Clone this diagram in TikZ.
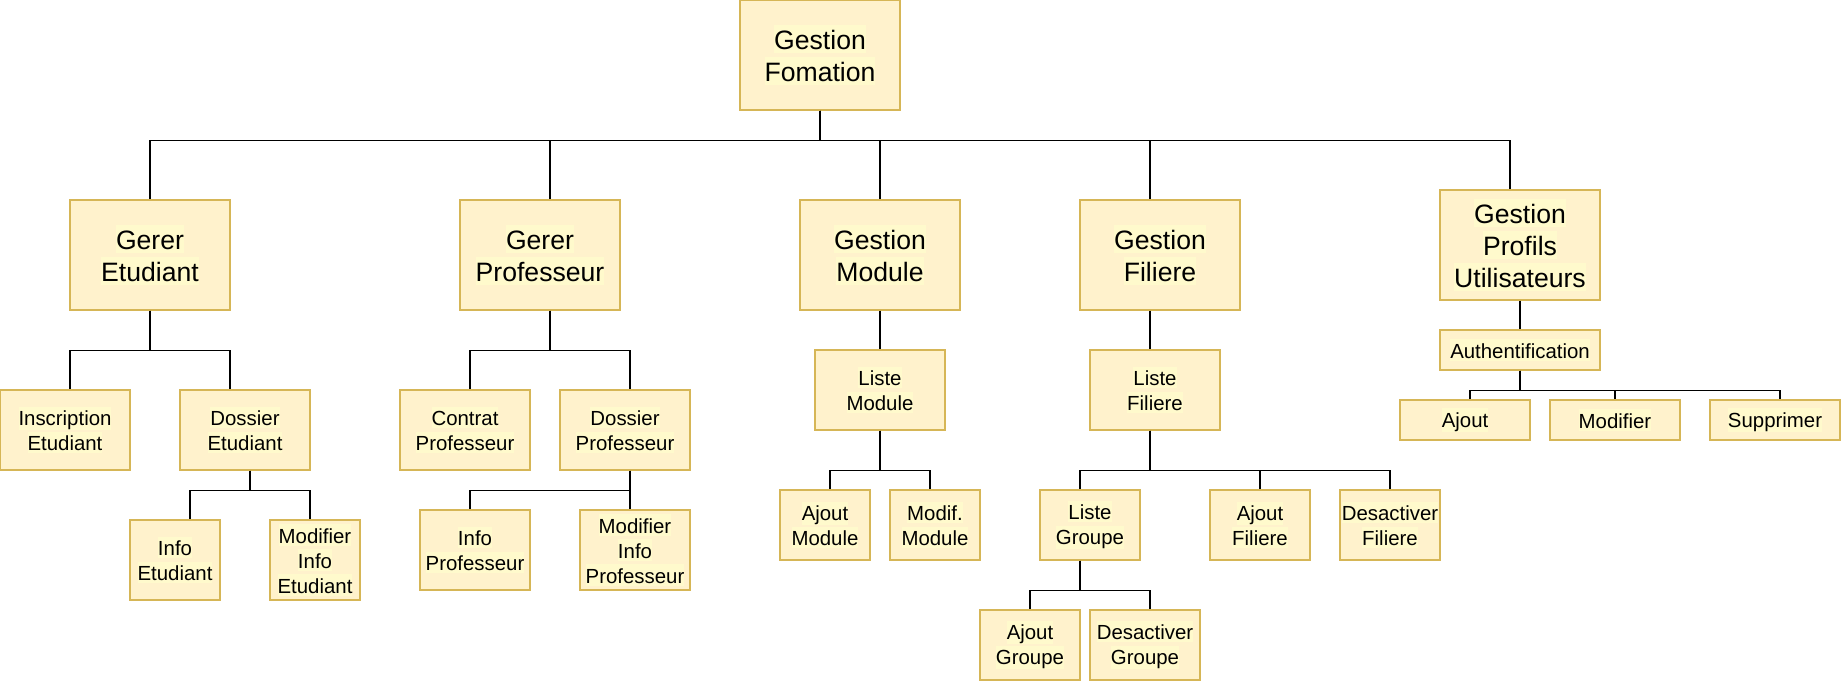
\documentclass[tikz,border=0pt]{standalone}
\usepackage{fontspec}
\setmainfont{Liberation Sans}
\definecolor{boxfill}{HTML}{FFF2CC}
\definecolor{boxline}{HTML}{D6B656}
\definecolor{labelbg}{HTML}{FFFACC}
\newcommand{\hl}[1]{{\fboxsep=0pt\colorbox{labelbg}{\rule[-0.12em]{0pt}{1.05em}#1}}}

\begin{document}
\begin{tikzpicture}[x=0.5pt, y=-0.5pt,
	box/.style={draw=boxline, fill=boxfill, line width=0.6pt, inner sep=0pt, align=center},
	big/.style={box, minimum width=80pt, minimum height=55pt, font=\fontsize{13.3}{16}\selectfont},
	small/.style={box, font=\fontsize{10.2}{12.5}\selectfont},
	sz/.style 2 args={minimum width=#1, minimum height=#2},
	link/.style={draw=black, line width=0.6pt}]
	\useasboundingbox (0,0) rectangle (1841,681);

	\node[big] (gf0)  at (820,55)   {\hl{Gestion}\\\hl{Fomation}};
	\node[big] (ge)   at (150,255)  {\hl{Gerer}\\\hl{Etudiant}};
	\node[big] (gp)   at (540,255)  {\hl{Gerer}\\\hl{Professeur}};
	\node[big] (gm)   at (880,255)  {\hl{Gestion}\\\hl{Module}};
	\node[big] (gf)   at (1160,255) {\hl{Gestion}\\\hl{Filiere}};
	\node[big] (gpu)  at (1520,245) {\hl{Gestion}\\\hl{Profils}\\\hl{Utilisateurs}};

	\node[small, sz={65pt}{40pt}]   (ie)   at (65,430)   {\hl{Inscription}\\\hl{Etudiant}};
	\node[small, sz={65pt}{40pt}]   (de)   at (245,430)  {\hl{Dossier}\\\hl{Etudiant}};
	\node[small, sz={45pt}{40pt}]   (inf)  at (175,560)  {\hl{Info}\\\hl{Etudiant}};
	\node[small, sz={45pt}{40pt}]   (mie)  at (315,560)  {\hl{Modifier}\\\hl{Info}\\\hl{Etudiant}};

	\node[small, sz={65pt}{40pt}]   (cp)   at (465,430)  {\hl{Contrat}\\\hl{Professeur}};
	\node[small, sz={65pt}{40pt}]   (dp)   at (625,430)  {\hl{Dossier}\\\hl{Professeur}};
	\node[small, sz={55pt}{40pt}]   (ip)   at (475,550)  {\hl{Info}\\\hl{Professeur}};
	\node[small, sz={55pt}{40pt}]   (mip)  at (635,550)  {\hl{Modifier}\\\hl{Info}\\\hl{Professeur}};

	\node[small, sz={65pt}{40pt}]   (lm)   at (880,390)  {\hl{Liste}\\\hl{Module}};
	\node[small, sz={45pt}{35pt}]   (am)   at (825,525)  {\hl{Ajout}\\\hl{Module}};
	\node[small, sz={45pt}{35pt}]   (mm)   at (935,525)  {\hl{Modif.}\\\hl{Module}};

	\node[small, sz={65pt}{40pt}]   (lf)   at (1155,390) {\hl{Liste}\\\hl{Filiere}};
	\node[small, sz={50pt}{35pt}]   (lg)   at (1090,525) {\hl{Liste}\\\hl{Groupe}};
	\node[small, sz={50pt}{35pt}]   (af)   at (1260,525) {\hl{Ajout}\\\hl{Filiere}};
	\node[small, sz={50pt}{35pt}]   (df)   at (1390,525) {\hl{Desactiver}\\\hl{Filiere}};
	\node[small, sz={50pt}{35pt}]   (ag)   at (1030,645) {\hl{Ajout}\\\hl{Groupe}};
	\node[small, sz={55pt}{35pt}]   (dg)   at (1145,645) {\hl{Desactiver}\\\hl{Groupe}};

	\node[small, sz={80pt}{20pt}]   (auth) at (1520,350) {\hl{Authentification}};
	\node[small, sz={65pt}{20pt}]   (aj)   at (1465,420) {\hl{Ajout}};
	\node[small, sz={65pt}{20pt}]   (mo)   at (1615,420) {\hl{Modifier}};
	\node[small, sz={65pt}{20pt}]   (su)   at (1775,420) {\hl{Supprimer}};

	\path[link] (gf0.south) -- ++(0,30) -| (ge.north);
	\path[link] (gf0.south) -- ++(0,30) -| ([xshift=5pt]gp.north);
	\path[link] (gf0.south) -- ++(0,30) -| (gm.north);
	\path[link] (gf0.south) -- ++(0,30) -| ([xshift=-5pt]gf.north);
	\path[link] (gf0.south) -- ++(0,30) -| ([xshift=-5pt]gpu.north);

	\path[link] (ge.south) -- ++(0,40) -| ([xshift=2.5pt]ie.north);
	\path[link] (ge.south) -- ++(0,40) -| ([xshift=-7.5pt]de.north);
	\path[link] ([xshift=2.5pt]de.south) -- ++(0,20) -| ([xshift=7.5pt]inf.north);
	\path[link] ([xshift=2.5pt]de.south) -- ++(0,20) -| ([xshift=-2.5pt]mie.north);

	\path[link] ([xshift=5pt]gp.south) -- ++(0,40) -| ([xshift=2.5pt]cp.north);
	\path[link] ([xshift=5pt]gp.south) -- ++(0,40) -| ([xshift=2.5pt]dp.north);
	\path[link] ([xshift=2.5pt]dp.south) -- ++(0,20) -| ([xshift=-2.5pt]ip.north);
	\path[link] ([xshift=2.5pt]dp.south) -- ++(0,20) -| ([xshift=-2.5pt]mip.north);

	\path[link] (gm.south) -- (lm.north);
	\path[link] (lm.south) -- ++(0,40) -| ([xshift=2.5pt]am.north);
	\path[link] (lm.south) -- ++(0,40) -| ([xshift=-2.5pt]mm.north);

	\path[link] ([xshift=-5pt]gf.south) -- ([xshift=-2.5pt]lf.north);
	\path[link] ([xshift=-2.5pt]lf.south) -- ++(0,40) -| ([xshift=-5pt]lg.north);
	\path[link] ([xshift=-2.5pt]lf.south) -- ++(0,40) -| (af.north);
	\path[link] ([xshift=-2.5pt]lf.south) -- ++(0,40) -| (df.north);
	\path[link] ([xshift=-5pt]lg.south) -- ++(0,30) -| (ag.north);
	\path[link] ([xshift=-5pt]lg.south) -- ++(0,30) -| ([xshift=2.5pt]dg.north);

	\path[link] (gpu.south) -- (auth.north);
	\path[link] (auth.south) -- ++(0,20) -| ([xshift=2.5pt]aj.north);
	\path[link] (auth.south) -- ++(0,20) -| (mo.north);
	\path[link] (auth.south) -- ++(0,20) -| ([xshift=2.5pt]su.north);
\end{tikzpicture}
\end{document}
